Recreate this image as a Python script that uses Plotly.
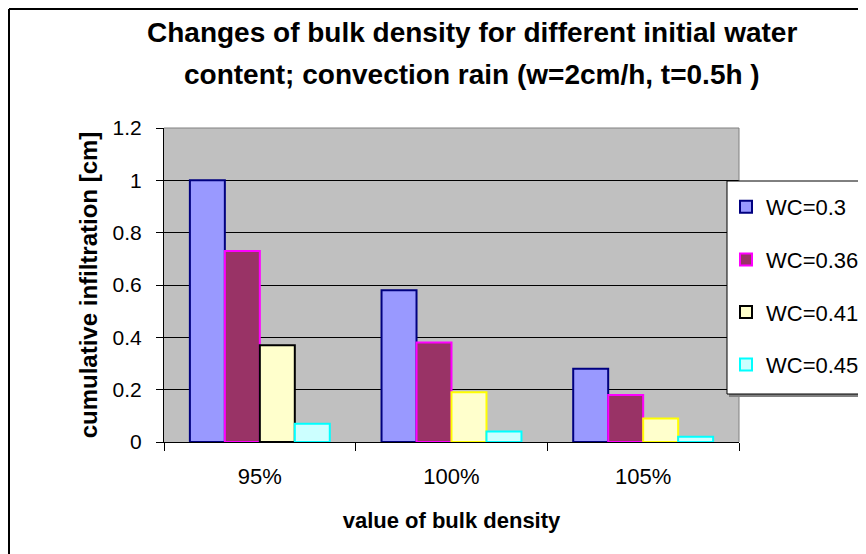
import plotly.graph_objects as go

# bulk density categories and cumulative infiltration per initial water content
categories = ["95%", "100%", "105%"]
series_names = ["WC=0.3", "WC=0.36", "WC=0.41", "WC=0.45"]
wc_030 = [1.0, 0.58, 0.28]
wc_036 = [0.73, 0.38, 0.18]
wc_041 = [0.37, 0.19, 0.09]
wc_045 = [0.07, 0.04, 0.02]

fills = ["#9999FF", "#993366", "#FFFFCC", "#CCFFFF"]
borders = ["#000080", "#FF00FF", ["#000000", "#FFFF00", "#FFFF00"], "#00FFFF"]

FONT = "Arial, Liberation Sans, sans-serif"

fig = go.Figure()
for i, (name, vals) in enumerate(zip(series_names, [wc_030, wc_036, wc_041, wc_045])):
    fig.add_trace(go.Bar(
        x=categories, y=vals, name=name, legendgroup=name,
        marker=dict(color=fills[i], line=dict(color=borders[i], width=2)),
    ))

# page has an 8px body margin; plot area sits at 164..739 x 128..442 on screen
def px_x(p):
    return (p - 164) / 575

def px_y(p):
    return (442 - p) / 314

shapes = [
    # grey top and right border of the plot area
    dict(type="line", xref="paper", yref="paper", x0=0, x1=1, y0=1, y1=1,
         line=dict(color="#808080", width=1), layer="above"),
    dict(type="line", xref="paper", yref="paper", x0=1, x1=1, y0=0, y1=1,
         line=dict(color="#808080", width=1), layer="above"),
    # outer chart frame (as close to the page edge as the figure reaches)
    dict(type="line", xref="paper", yref="paper", x0=px_x(9), x1=px_x(9), y0=px_y(570), y1=px_y(9),
         line=dict(color="#000000", width=2), layer="above"),
    dict(type="line", xref="paper", yref="paper", x0=px_x(9), x1=px_x(880), y0=px_y(9), y1=px_y(9),
         line=dict(color="#000000", width=2), layer="above"),
    # legend shadow and box
    dict(type="rect", xref="paper", yref="paper", x0=px_x(729), x1=px_x(890), y0=px_y(397), y1=px_y(184),
         fillcolor="#808080", line=dict(width=0), layer="above"),
    dict(type="rect", xref="paper", yref="paper", x0=px_x(727), x1=px_x(890), y0=px_y(394), y1=px_y(181),
         fillcolor="white", line=dict(color="black", width=1), layer="above"),
]

annotations = [
    dict(text="Changes of bulk density for different initial water", x=px_x(472), xref="paper",
         xanchor="center", y=px_y(33), yref="paper", yanchor="middle", showarrow=False,
         font=dict(family=FONT, size=28, color="black", weight="bold")),
    dict(text="content; convection rain (w=2cm/h, t=0.5h )", x=px_x(472), xref="paper",
         xanchor="center", y=px_y(74), yref="paper", yanchor="middle", showarrow=False,
         font=dict(family=FONT, size=28, color="black", weight="bold")),
]

fig.update_layout(
    width=866, height=554,
    margin=dict(l=156, r=135, t=120, b=120, autoexpand=False),
    paper_bgcolor="white", plot_bgcolor="#C0C0C0",
    barmode="group", bargap=0.27, bargroupgap=0,
    font=dict(family=FONT, size=21, color="black"),
    shapes=shapes, annotations=annotations,
    legend=dict(
        x=px_x(726), y=px_y(186), xanchor="left", yanchor="top",
        bgcolor="rgba(0,0,0,0)", borderwidth=0,
        font=dict(family=FONT, size=22, color="black"),
        traceorder="grouped", tracegroupgap=21,
    ),
    xaxis=dict(
        showline=True, linecolor="black", linewidth=1,
        ticks="outside", tickson="boundaries", ticklen=8, tickcolor="black",
        ticklabelstandoff=15, showgrid=False, tickfont=dict(size=22),
        title=dict(text="<b>value of bulk density</b>", standoff=24,
                   font=dict(family=FONT, size=22)),
    ),
    yaxis=dict(
        range=[0, 1.2], dtick=0.2, showline=True, linecolor="black", linewidth=1,
        ticks="outside", ticklen=7, tickcolor="black", ticklabelstandoff=10,
        showgrid=True, gridcolor="black", gridwidth=1, zeroline=False,
        tickfont=dict(size=21),
        title=dict(text="<b>cumulative infiltration [cm]</b>", standoff=8,
                   font=dict(family=FONT, size=24)),
    ),
)

fig.write_html("out.html")
